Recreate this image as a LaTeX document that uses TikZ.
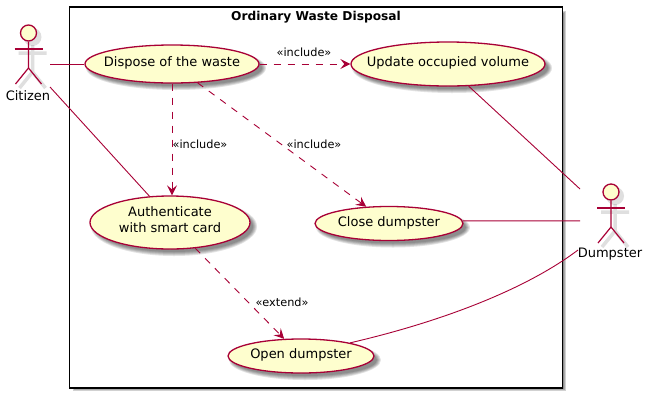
\documentclass[tikz,border=0pt]{standalone}
\usepackage{fontspec}
\setmainfont{DejaVu Sans}
\usetikzlibrary{arrows.meta,shapes.geometric}
\definecolor{umlred}{HTML}{A80036}
\definecolor{umlfill}{HTML}{FEFECE}
\newcommand{\softellipse}[4]{%
  \foreach \k in {3,2,1,0,-1}{%
    \fill[black,opacity=0.11] (#1+4,#2+4) ellipse [x radius=#3+\k, y radius=#4+\k];}}
\newcommand{\actorshadow}[2]{%
  \begin{scope}[shift={(#1+4,#2+4)},gray,opacity=0.25,line width=3.5pt]
    \fill (0,0) circle (9);
    \draw (0,8) -- (0,35) -- (-13,51) (0,35) -- (13,51) (-14,16) -- (14,16);
  \end{scope}}
\newcommand{\actorbody}[3]{%
  \begin{scope}[shift={(#1,#2)}]
    \node[actorhead] (#3head) at (0,0) {};
    \draw[umlline] (#3head.south) -- (0,35) coordinate (#3hip) -- (-13,51);
    \draw[umlline] (#3hip) -- (13,51);
    \draw[umlline] (-14,16) -- (14,16);
  \end{scope}}
\tikzset{
  x=1pt,y=-1pt,
  umlline/.style={draw=umlred,line width=1.2pt},
  actorhead/.style={circle,draw=umlred,fill=umlfill,line width=1.3pt,minimum size=16pt,inner sep=0pt},
  usecase/.style={ellipse,draw=umlred,fill=umlfill,line width=1.3pt,inner sep=0pt},
  casetext/.style={font=\fontsize{13}{16}\selectfont,align=center,text=black,inner sep=0pt,yshift=1pt},
  casetexttwo/.style={font=\fontsize{13}{16}\selectfont,align=center,text=black,inner sep=0pt,yshift=2.5pt},
  assoc/.style={draw=umlred,line width=0.9pt},
  dep/.style={draw=umlred,line width=0.9pt,dash pattern=on 7pt off 7pt,-{Stealth[length=10pt,width=10pt,inset=4pt]}},
  edgelabel/.style={font=\fontsize{11.3}{14}\selectfont,text=black,inner sep=0pt},
  actorlabel/.style={font=\fontsize{13}{16}\selectfont,text=black,inner sep=0pt},
  boxtitle/.style={font=\fontsize{12.2}{15}\selectfont\bfseries,text=black,inner sep=0pt}
}
\begin{document}
\begin{tikzpicture}
\useasboundingbox (0,0) rectangle (648,400);
\fill[white] (0,0) rectangle (648,400);
% system box
\foreach \k in {0,1,2}{\fill[black,opacity=0.18] (73+\k,11+\k) rectangle (566-\k,391-\k);}
\node[draw=black,fill=white,line width=1.5pt,minimum width=493pt,minimum height=381pt,inner sep=0pt] (box) at (316,197.5) {};
\node[boxtitle] (title) at (316,17) {Ordinary Waste Disposal};
% shadows
\softellipse{172}{64}{87}{19}
\softellipse{448}{64}{97}{22}
\softellipse{170}{222.5}{80}{26.5}
\softellipse{389}{223.5}{74}{17}
\softellipse{301}{356}{73}{17}
\actorshadow{28.5}{33}
\actorshadow{611}{192}
% use cases
\node[usecase,minimum width=174pt,minimum height=38pt,label={[casetext]center:Dispose of the waste}] (dispose) at (172,64) {};
\node[usecase,minimum width=194pt,minimum height=44pt,label={[casetext]center:Update occupied volume}] (update) at (448,64) {};
\node[usecase,minimum width=160pt,minimum height=53pt,label={[casetexttwo]center:Authenticate\\with smart card}] (auth) at (170,222.5) {};
\node[usecase,minimum width=148pt,minimum height=34pt,label={[casetext]center:Close dumpster}] (close) at (389,223.5) {};
\node[usecase,minimum width=146pt,minimum height=34pt,label={[casetext]center:Open dumpster}] (open) at (301,356) {};
% actors
\actorbody{28.5}{33}{citizen}
\actorbody{611}{192}{dumpster}
\node[actorlabel] (citizenlabel) at (28,96) {Citizen};
\node[actorlabel] (dumpsterlabel) at (610,254) {Dumpster};
\coordinate (citizenA) at (50,64);
\coordinate (citizenB) at (50,87);
\coordinate (dumpsterA) at (580,189);
\coordinate (dumpsterB) at (580,220.9);
\coordinate (dumpsterC) at (578,250);
% associations
\draw[assoc] (citizenA) -- (dispose.west);
\draw[assoc] (citizenB) -- (auth.128);
\draw[assoc] (update.-47) -- (dumpsterA);
\draw[assoc] (close.2) -- (dumpsterB);
\draw[assoc] (open.15) .. controls (440,322) and (525,290) .. (dumpsterC);
% dependencies
\draw[dep] (dispose.east) -- (update.west);
\node[edgelabel] (l1) at (304,52) {«include»};
\draw[dep] (dispose.south) -- (auth.north -| dispose.south);
\node[edgelabel] (l2) at (200,144) {«include»};
\draw[dep] (dispose) -- (close);
\node[edgelabel] (l3) at (314,144) {«include»};
\draw[dep] (auth) -- (open);
\node[edgelabel] (l4) at (282,302) {«extend»};
\end{tikzpicture}
\end{document}
